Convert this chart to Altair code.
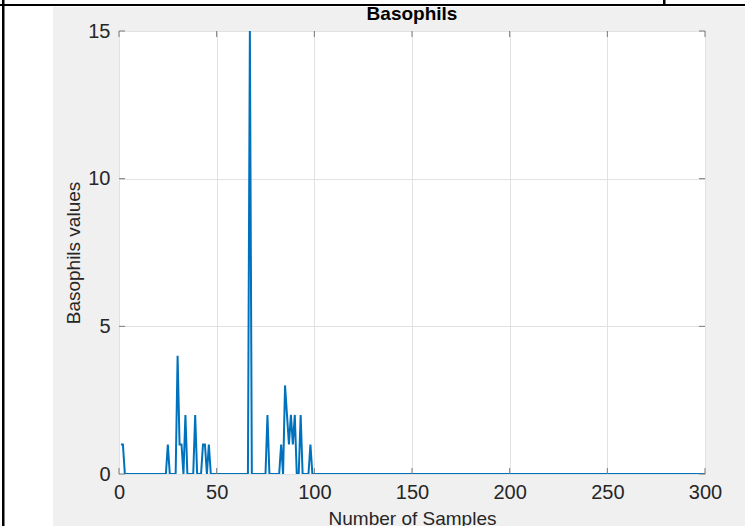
import altair as alt
import pandas as pd

# ---- data ----
samples = list(range(1, 301))
basophils = [
    1, 1, 0, 0, 0, 0, 0, 0, 0, 0,
    0, 0, 0, 0, 0, 0, 0, 0, 0, 0,
    0, 0, 0, 0, 1, 0, 0, 0, 0, 4,
    1, 1, 0, 2, 0, 0, 0, 0, 2, 0,
    0, 0, 1, 1, 0, 1, 0, 0, 0, 0,
    0, 0, 0, 0, 0, 0, 0, 0, 0, 0,
    0, 0, 0, 0, 0, 0, 15, 0, 0, 0,
    0, 0, 0, 0, 0, 2, 0, 0, 0, 0,
    0, 0, 1, 0, 3, 2, 1, 2, 1, 2,
    0, 0, 2, 0, 0, 0, 0, 1, 0, 0,
    0, 0, 0, 0, 0, 0, 0, 0, 0, 0,
    0, 0, 0, 0, 0, 0, 0, 0, 0, 0,
    0, 0, 0, 0, 0, 0, 0, 0, 0, 0,
    0, 0, 0, 0, 0, 0, 0, 0, 0, 0,
    0, 0, 0, 0, 0, 0, 0, 0, 0, 0,
    0, 0, 0, 0, 0, 0, 0, 0, 0, 0,
    0, 0, 0, 0, 0, 0, 0, 0, 0, 0,
    0, 0, 0, 0, 0, 0, 0, 0, 0, 0,
    0, 0, 0, 0, 0, 0, 0, 0, 0, 0,
    0, 0, 0, 0, 0, 0, 0, 0, 0, 0,
    0, 0, 0, 0, 0, 0, 0, 0, 0, 0,
    0, 0, 0, 0, 0, 0, 0, 0, 0, 0,
    0, 0, 0, 0, 0, 0, 0, 0, 0, 0,
    0, 0, 0, 0, 0, 0, 0, 0, 0, 0,
    0, 0, 0, 0, 0, 0, 0, 0, 0, 0,
    0, 0, 0, 0, 0, 0, 0, 0, 0, 0,
    0, 0, 0, 0, 0, 0, 0, 0, 0, 0,
    0, 0, 0, 0, 0, 0, 0, 0, 0, 0,
    0, 0, 0, 0, 0, 0, 0, 0, 0, 0,
    0, 0, 0, 0, 0, 0, 0, 0, 0, 0,
]
x_ticks = [0, 50, 100, 150, 200, 250, 300]
y_ticks = [0, 5, 10, 15]
title_text = ["Basophils"]
x_title = "Number of Samples"
y_title = "Basophils values"

# ---- layout ----
W, H = 586, 443
PAD_L, PAD_T, PAD_R, PAD_B = 119, 31, 40, 52
FONT = "Liberation Sans"
TXT = "#262626"
BOX = "#7a7a7a"

df = pd.DataFrame({"sample": samples, "value": basophils})
one = pd.DataFrame({"k": [0]})
tdf = pd.DataFrame({"title": title_text})
xt = pd.DataFrame({"t": x_ticks})
yt = pd.DataFrame({"t": y_ticks})

xs = alt.Scale(domain=[0, 300], nice=False, zero=False)
ys = alt.Scale(domain=[0, 15], nice=False)

line = alt.Chart(df).mark_line(color="#0072BD", strokeWidth=2, clip=True).encode(
    x=alt.X(
        "sample:Q", scale=xs,
        axis=alt.Axis(
            values=x_ticks, title=x_title, grid=True, gridColor="#e2e2e2",
            domain=False, ticks=False, labelPadding=8, labelFontSize=20,
            labelFlush=False, labelOverlap=False,
            labelFont=FONT, labelColor=TXT, titleFont=FONT, titleFontSize=19,
            titleFontWeight="normal", titleColor=TXT, titleY=50,
            titleBaseline="alphabetic",
        ),
    ),
    y=alt.Y(
        "value:Q", scale=ys,
        axis=alt.Axis(
            values=y_ticks, title=y_title, grid=True, gridColor="#e2e2e2",
            domain=False, ticks=False, labelPadding=9, labelFontSize=20,
            labelFlush=False, labelOverlap=False,
            labelFont=FONT, labelColor=TXT, titleFont=FONT, titleFontSize=19,
            titleFontWeight="normal", titleColor=TXT, titleX=-46,
            titleY=H / 2, titleAngle=270, titleAlign="center",
            titleBaseline="middle",
        ),
    ),
)

# inward MATLAB-style ticks
tx_bot = alt.Chart(xt).mark_rule(color=BOX, strokeWidth=1).encode(
    x=alt.X("t:Q", scale=xs), y=alt.value(H), y2=alt.value(H - 6))
tx_top = alt.Chart(xt).mark_rule(color=BOX, strokeWidth=1).encode(
    x=alt.X("t:Q", scale=xs), y=alt.value(0), y2=alt.value(6))
ty_left = alt.Chart(yt).mark_rule(color=BOX, strokeWidth=1).encode(
    y=alt.Y("t:Q", scale=ys), x=alt.value(0), x2=alt.value(6))
ty_right = alt.Chart(yt).mark_rule(color=BOX, strokeWidth=1).encode(
    y=alt.Y("t:Q", scale=ys), x=alt.value(W - 6), x2=alt.value(W))

# chart title
title = alt.Chart(tdf).mark_text(
    font=FONT, fontSize=19, fontWeight="bold", color="black",
    align="center", baseline="alphabetic",
).encode(text="title:N", x=alt.value(W / 2), y=alt.value(-11))

# page decoration (document table borders around the figure)
white_left = alt.Chart(one).mark_rect(color="white").encode(
    x=alt.value(-PAD_L), x2=alt.value(-66), y=alt.value(-PAD_T), y2=alt.value(H + PAD_B))
white_top = alt.Chart(one).mark_rect(color="white").encode(
    x=alt.value(-PAD_L), x2=alt.value(W + PAD_R), y=alt.value(-PAD_T), y2=alt.value(-24))
black_v = alt.Chart(one).mark_rect(color="black").encode(
    x=alt.value(-PAD_L + 2), x2=alt.value(-PAD_L + 4.5), y=alt.value(-PAD_T), y2=alt.value(H + PAD_B))
black_h = alt.Chart(one).mark_rect(color="black").encode(
    x=alt.value(-PAD_L), x2=alt.value(W + PAD_R), y=alt.value(-PAD_T + 4), y2=alt.value(-PAD_T + 6))
black_tick = alt.Chart(one).mark_rect(color="black").encode(
    x=alt.value(663 - PAD_L), x2=alt.value(665.5 - PAD_L), y=alt.value(-PAD_T), y2=alt.value(-PAD_T + 5))

chart = alt.layer(
    white_left, white_top, black_v, black_h, black_tick,
    line, tx_bot, tx_top, ty_left, ty_right, title,
).properties(
    width=W, height=H,
    autosize=alt.AutoSizeParams(type="none"),
    padding={"left": PAD_L, "top": PAD_T, "right": PAD_R, "bottom": PAD_B},
).configure(
    background="#f0f0f0",
).configure_view(
    fill="white", stroke=BOX, strokeWidth=1,
)

chart.save("out.html", embed_options={"renderer": "svg", "actions": False})
